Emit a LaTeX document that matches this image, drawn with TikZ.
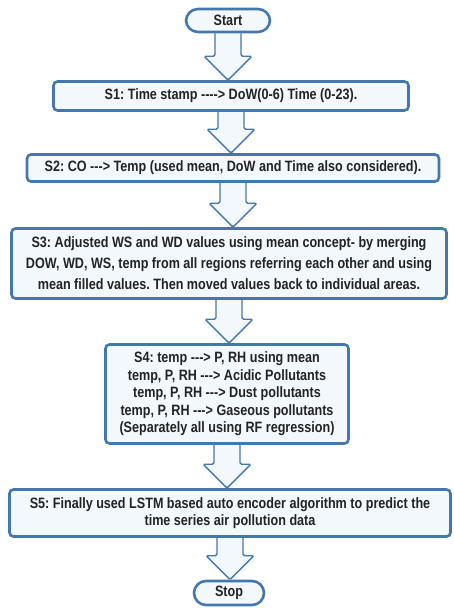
\documentclass[tikz,border=0pt]{standalone}
\usepackage{fontspec}
\setmainfont{Liberation Sans}[FakeStretch=0.84,Ligatures=TeXOff]
\frenchspacing
\usetikzlibrary{positioning,calc,backgrounds}
\definecolor{flowline}{RGB}{68,119,173}
\definecolor{flowfill}{RGB}{243,248,253}
\definecolor{flowtext}{RGB}{35,35,35}

% hollow block arrow from the bottom of #1 to the top of #2
\newcommand{\flowarrow}[2]{%
  \begin{scope}[on background layer]
  \draw[barr] let \p1=(#1.south), \p2=(#2.north) in
    (\x1-13pt,\y1) -- (\x1-13pt,\y2+24pt) -- (\x1-24pt,\y2+24pt) -- (\x1,\y2)
    -- (\x1+24pt,\y2+24pt) -- (\x1+13pt,\y2+24pt) -- (\x1+13pt,\y1);
  \end{scope}}

\begin{document}
\begin{tikzpicture}[
  x=1pt,y=1pt,
  term/.style={rectangle,draw=flowline,line width=2.6pt,rounded corners=12pt,fill=flowfill,
               text=flowtext,font=\fontsize{15}{17.5}\selectfont\bfseries,minimum height=23pt},
  stepbox/.style={rectangle,draw=flowline,line width=2.6pt,rounded corners=4pt,fill=flowfill,
               text=flowtext,align=center,font=\fontsize{15}{17.5}\selectfont\bfseries},
  barr/.style={draw=flowline,line width=1.4pt,fill=flowfill,rounded corners=1.5pt}
]
\useasboundingbox (0,0) rectangle (454,-608);

\node[term,minimum width=84pt] (st) at (228,-20.5) {Start};
\node[stepbox,minimum width=355pt,minimum height=29pt] (s1) at (231,-96)
  {S1: Time stamp ----> DoW(0-6) Time (0-23).};
\node[stepbox,minimum width=412pt,minimum height=27pt] (s2) at (233,-168)
  {S2: CO ---> Temp (used mean, DoW and Time also considered).};
\node[stepbox,minimum width=435pt,minimum height=70pt,
      font=\fontsize{15}{21}\selectfont\bfseries] (s3) at (229,-263.5)
  {S3: Adjusted WS and WD values using mean concept- by merging\\
   DOW, WD, WS, temp from all regions referring each other and using\\
   mean filled values. Then moved values back to individual areas.};
\node[stepbox,minimum width=243pt,minimum height=99pt] (s4) at (227,-394)
  {S4: temp ---> P, RH using mean\\
   temp, P, RH ---> Acidic Pollutants\\
   temp, P, RH ---> Dust pollutants\\
   temp, P, RH ---> Gaseous pollutants\\
   (Separately all using RF regression)};
\node[stepbox,minimum width=441pt,minimum height=47pt] (s5) at (230,-513)
  {S5: Finally used LSTM based auto encoder algorithm to predict the\\
   time series air pollution data};
\node[term,minimum width=70pt,minimum height=24pt] (sp) at (229,-593) {Stop};

\flowarrow{st}{s1}
\flowarrow{s1}{s2}
\flowarrow{s2}{s3}
\flowarrow{s3}{s4}
\flowarrow{s4}{s5}
\flowarrow{s5}{sp}
\end{tikzpicture}
\end{document}
